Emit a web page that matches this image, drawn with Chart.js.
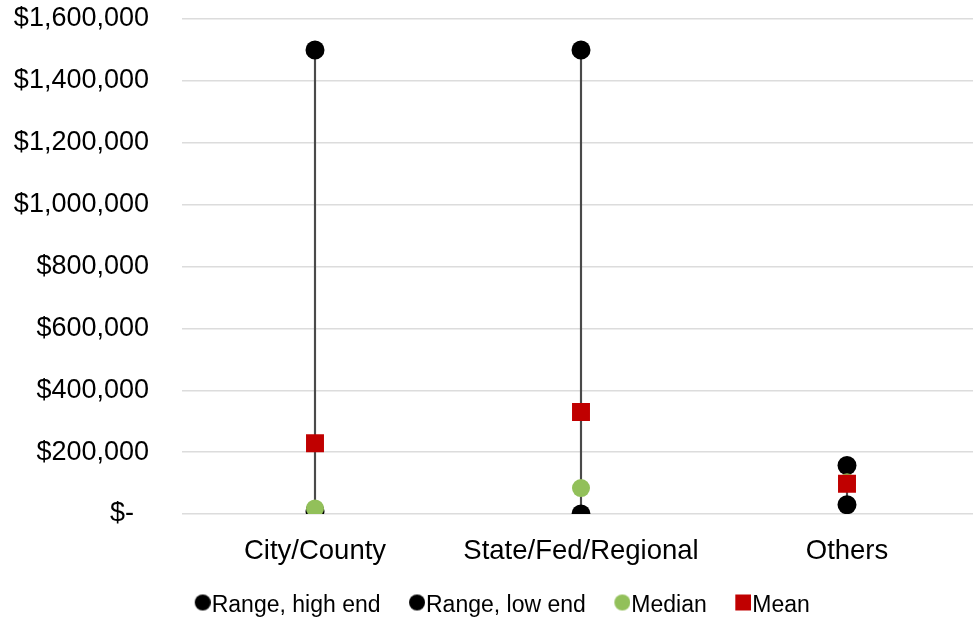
<!DOCTYPE html>
<html>
<head>
<meta charset="utf-8">
<script src="https://cdn.jsdelivr.net/npm/chart.js@4"></script>
<style>
  html, body { margin: 0; padding: 0; background: #fff; overflow: hidden; }
  #wrap { width: 980px; height: 623px; position: relative; }
</style>
</head>
<body>
<div id="wrap"><canvas id="c"></canvas></div>
<script>
const categories = ['City/County', 'State/Fed/Regional', 'Others'];
const rangeHigh = [1500000, 1500000, 157000];
const rangeLow = [10000, 0, 30000];
const medianVals = [18000, 84000, 103000];
const meanVals = [229000, 330000, 98000];
const yTicks = [0, 200000, 400000, 600000, 800000, 1000000, 1200000, 1400000, 1600000];

const FONT = 'Liberation Sans, Arial, Helvetica, sans-serif';

// legend marker images: marker drawn in the right half, slightly above centre
function markerCanvas(shape, color, size) {
  const cv = document.createElement('canvas');
  cv.width = 32; cv.height = 32;
  const g = cv.getContext('2d');
  g.fillStyle = color;
  const x0 = 16, y0 = 16 - size / 2 - 3;
  if (shape === 'circle') {
    g.beginPath(); g.arc(x0 + size / 2, y0 + size / 2, size / 2, 0, Math.PI * 2); g.fill();
  } else {
    g.fillRect(x0, y0, size, size);
  }
  return cv;
}
const legendMarkers = [
  markerCanvas('circle', '#000000', 16),
  markerCanvas('circle', '#000000', 16),
  markerCanvas('circle', '#92C05A', 16),
  markerCanvas('rect', '#C00000', 16)
];

const legendShift = {
  id: 'legendShift',
  afterLayout(chart) {
    const lg = chart.legend;
    if (!lg) return;
    const dx = 9.5, dy = 4;
    lg.left += dx; lg.right += dx;
    lg.top += dy; lg.bottom += dy;
  }
};

const chart = new Chart(document.getElementById('c'), {
  type: 'line',
  data: {
    labels: categories,
    datasets: [
      {
        label: 'Range, high end', data: rangeHigh, showLine: false,
        pointStyle: 'circle', pointRadius: 9.5, pointHoverRadius: 9.5,
        backgroundColor: '#000', borderColor: '#000', pointBorderWidth: 0, order: 4
      },
      {
        label: 'Range, low end', data: rangeLow, showLine: false,
        pointStyle: 'circle', pointRadius: 9.5, pointHoverRadius: 9.5,
        backgroundColor: '#000', borderColor: '#000', pointBorderWidth: 0, order: 3
      },
      {
        label: 'Median', data: medianVals, showLine: false,
        pointStyle: 'circle', pointRadius: 9, pointHoverRadius: 9,
        backgroundColor: '#92C05A', borderColor: '#92C05A', pointBorderWidth: 0, order: 2
      },
      {
        label: 'Mean', data: meanVals, showLine: false,
        pointStyle: 'rect', pointRadius: 12.7, pointHoverRadius: 12.7,
        backgroundColor: '#C00000', borderColor: '#C00000', pointBorderWidth: 0, order: 1
      },
      {
        type: 'bar', label: 'hilo',
        data: categories.map((c, i) => [rangeLow[i], rangeHigh[i]]),
        backgroundColor: '#4a4a4a', barThickness: 1.5, order: 5
      }
    ]
  },
  plugins: [legendShift],
  options: {
    responsive: true,
    maintainAspectRatio: false,
    animation: false,
    layout: { autoPadding: false, padding: { left: 0, right: 0, top: 19, bottom: 0 } },
    plugins: {
      tooltip: { enabled: false },
      legend: {
        position: 'bottom',
        labels: {
          usePointStyle: true,
          pointStyleWidth: 11,
          boxHeight: 10,
          padding: 23,
          color: '#000',
          font: { family: FONT, size: 23 },
          filter: (item) => item.text !== 'hilo',
          sort: (a, b) => a.datasetIndex - b.datasetIndex,
          generateLabels: (ch) => {
            const items = Chart.defaults.plugins.legend.labels.generateLabels(ch);
            items.forEach(it => {
              if (it.datasetIndex < 4) { it.pointStyle = legendMarkers[it.datasetIndex]; }
            });
            return items;
          }
        }
      }
    },
    scales: {
      x: {
        offset: true,
        afterFit: (s) => { s.height = 53; s.paddingLeft = 0; s.paddingRight = 0; },
        grid: { display: false, drawTicks: false },
        border: { display: false },
        ticks: { color: '#000', font: { family: FONT, size: 27.5 }, padding: 21, maxRotation: 0 }
      },
      y: {
        min: 0, max: 1600000,
        afterFit: (s) => { s.width = 182; s.paddingTop = 0; s.paddingBottom = 0; },
        afterBuildTicks: (s) => { s.ticks = yTicks.map(v => ({ value: v })); },
        grid: { color: '#dcdcdc', lineWidth: 1.5, drawTicks: false },
        border: { display: false },
        ticks: {
          color: '#000', font: { family: FONT, size: 27 }, padding: 33,
          callback: (v) => v === 0 ? '$-  ' : '$' + v.toLocaleString('en-US')
        }
      }
    }
  }
});
</script>
</body>
</html>
